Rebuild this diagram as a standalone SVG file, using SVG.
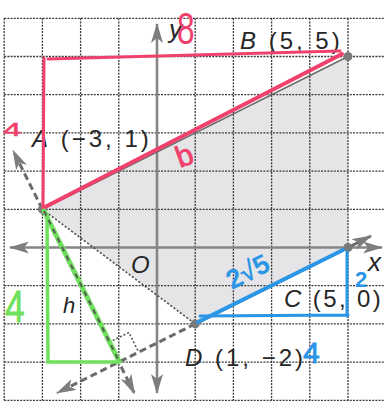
<svg xmlns="http://www.w3.org/2000/svg" width="385" height="402" viewBox="0 0 385 402">
<defs>
<style>
.grid{stroke:#3a3a3a;stroke-width:1.3;stroke-dasharray:2 1.2;fill:none}
.axis{stroke:#858585;stroke-width:2.6;fill:none}
.dash{stroke:#6a6a6a;stroke-width:3;stroke-dasharray:7 4;fill:none}
.lbl{font-family:"Liberation Sans",Arial,sans-serif;font-size:24px;fill:#262626;letter-spacing:3px}
.it{font-style:italic}
.pt{fill:#7a7a7a}
.red{stroke:#f0416c;fill:none;stroke-linecap:round}
.grn{stroke:#6fe05c;fill:none;stroke-linecap:round}
.blu{stroke:#2b95e6;fill:none;stroke-linecap:round}
.hw{font-family:"Liberation Sans",Arial,sans-serif}
</style>
<marker id="ah" viewBox="0 0 20 12" refX="19" refY="6" markerWidth="20" markerHeight="12" markerUnits="userSpaceOnUse" orient="auto-start-reverse">
<path d="M0,0 L20,6 L0,12 L5,6 z" fill="#7d7d7d"/>
</marker>
</defs>
<rect width="385" height="402" fill="#ffffff"/>
<g id="shade">
<polygon points="42.4,209.3 348,56.5 348,247.5 195.2,323.9" fill="#e5e5e7"/>
</g>
<g id="grid" class="grid">
<path d="M4.2,18.3V400.3M42.4,18.3V400.3M80.6,18.3V400.3M118.8,18.3V400.3M195.2,18.3V400.3M233.4,18.3V400.3M271.6,18.3V400.3M309.8,18.3V400.3M348,18.3V400.3"/>
<path d="M4.2,18.3H386M4.2,56.5H386M4.2,94.7H386M4.2,132.9H386M4.2,171.1H386M4.2,209.3H386M4.2,285.7H386M4.2,323.9H386M4.2,362.1H386M4.2,400.3H386"/>
</g>
<g id="axes">
<line class="axis" x1="157" y1="247.5" x2="10" y2="247.5" marker-end="url(#ah)"/>
<line class="axis" x1="157" y1="247.5" x2="382" y2="247.5" marker-end="url(#ah)"/>
<line class="axis" x1="157" y1="247.5" x2="157" y2="24" marker-end="url(#ah)"/>
<line class="axis" x1="157" y1="247.5" x2="157" y2="393" marker-end="url(#ah)"/>
<text class="lbl it" x="368" y="271" style="font-size:26px;letter-spacing:0">x</text>
<text class="lbl it" x="169" y="38" style="font-size:26px;letter-spacing:0">y</text>
<text class="lbl it" x="131" y="273" style="letter-spacing:0">O</text>
</g>
<g id="connectors">
<line x1="42.4" y1="209.3" x2="348" y2="56.5" stroke="#6a6a6a" stroke-width="1.5"/>
<line x1="42.4" y1="209.3" x2="195.2" y2="323.9" stroke="#4a4a4a" stroke-width="1.6" stroke-dasharray="2 2"/>
<line x1="195.2" y1="323.9" x2="348" y2="247.5" stroke="#6a6a6a" stroke-width="3"/>
<line class="dash" x1="42.4" y1="209.3" x2="13" y2="150.5" marker-end="url(#ah)"/>
<line class="dash" x1="42.4" y1="209.3" x2="134.5" y2="393.5" marker-end="url(#ah)"/>
<line class="dash" x1="195.2" y1="323.9" x2="57" y2="393" marker-end="url(#ah)"/>
<line x1="348" y1="247.5" x2="371" y2="236" stroke="#6a6a6a" stroke-width="3" marker-end="url(#ah)"/>
<polyline points="109.2,342.3 128.9,332.5 138.7,352.2" fill="none" stroke="#555" stroke-width="1.6" stroke-dasharray="2 2"/>
<text class="lbl it" x="63" y="313" style="font-size:22px;letter-spacing:0">h</text>
</g>
<g id="node-A">
<circle class="pt" cx="42.4" cy="209.3" r="4.5"/>
<text class="lbl" x="32" y="147"><tspan class="it">A</tspan> (−3, 1)</text>
</g>
<g id="node-B">
<circle class="pt" cx="348" cy="56.5" r="4.5"/>
<text class="lbl" x="240" y="49"><tspan class="it">B</tspan> (5, 5)</text>
</g>
<g id="node-C">
<circle class="pt" cx="348" cy="247.5" r="4.5"/>
<text class="lbl" x="284" y="307" style="letter-spacing:2.4px"><tspan class="it">C</tspan> (5, 0)</text>
</g>
<g id="node-D">
<circle class="pt" cx="195.2" cy="323.9" r="4.5"/>
<text class="lbl" x="185" y="366"><tspan class="it">D</tspan> (1, −2)</text>
</g>
<g id="red-notes">
<path class="red" stroke-width="3" d="M48,59 L340,51"/>
<path class="red" stroke-width="3" d="M44,58 L43,208"/>
<path class="red" stroke-width="4" d="M45,207 L342,54"/>
<text class="hw" transform="translate(177,44) scale(0.72,1)" font-size="44" fill="#f0416c">8</text>
<text class="hw" transform="translate(3,136) scale(1.5,0.85)" font-size="22" fill="#f0416c" stroke="#f0416c" stroke-width="0.6">4</text>
<text class="hw" transform="translate(180,168) rotate(-20)" font-size="30" fill="#f0416c" stroke="#f0416c" stroke-width="0.8">b</text>
</g>
<g id="green-notes">
<path class="grn" stroke-width="3.5" d="M47,214 L48,362 L120,362"/>
<path class="grn" stroke-width="5" d="M44,211 L119,361"/>
<line x1="44" y1="211" x2="119" y2="361" stroke="#5a5a5a" stroke-width="2" stroke-dasharray="5 5"/>
<text class="hw" transform="translate(5,322) scale(0.8,1)" font-size="44" fill="#6fe05c" stroke="#6fe05c" stroke-width="0.8">4</text>
</g>
<g id="blue-notes">
<path class="blu" stroke-width="4" d="M198,322 L343,250"/>
<path class="blu" stroke-width="3" d="M200,316 L348,315 M347,252 L347,316"/>
<text class="hw" transform="translate(232,290) rotate(-27)" font-size="27" font-weight="bold" fill="#2b95e6">2√5</text>
<text class="hw" x="355" y="287" font-size="22" font-weight="bold" fill="#2b95e6">2</text>
<text class="hw" x="303" y="363" font-size="30" fill="#2b95e6" stroke="#2b95e6" stroke-width="0.8">4</text>
</g>
</svg>
